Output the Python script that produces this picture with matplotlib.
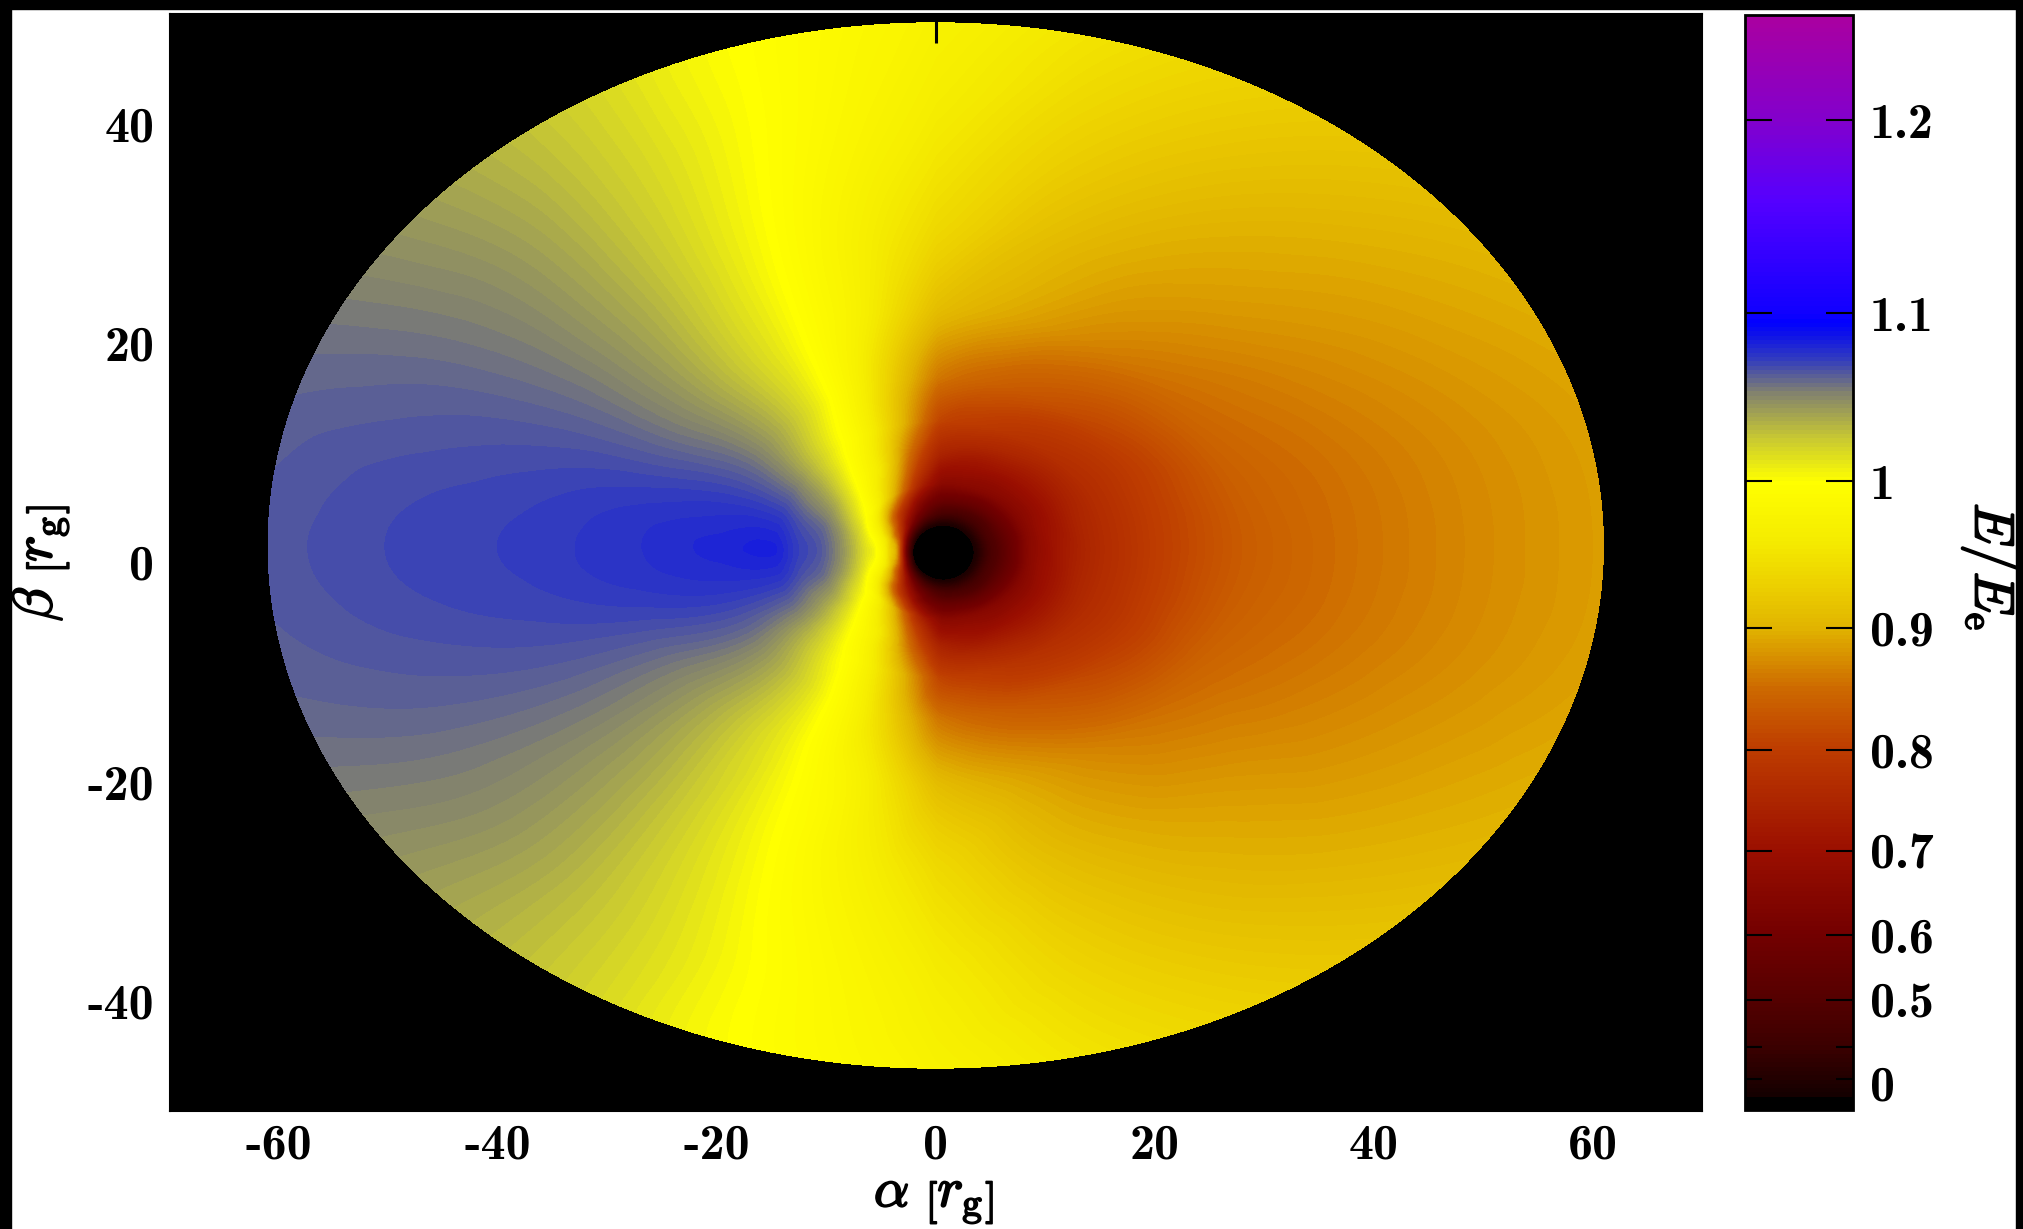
#!/usr/bin/python
# energy shift map of a thin disc seen at an angle, with a stretched colour bar
import numpy as np
import matplotlib
matplotlib.use('Agg')
import matplotlib.pyplot as plt
import matplotlib.tri as mtri
import matplotlib.patheffects as pe
from matplotlib.cm import ScalarMappable
from matplotlib.colors import LinearSegmentedColormap, FuncNorm
from matplotlib.patches import Rectangle

# rings of the disc as seen in the picture (semi axes and centre, in r_g)
ring_a = [2.8, 4.0, 5.0, 6.0, 7.0, 8.0, 9.5, 11.0, 13.0, 15.0, 20.0, 28.0, 38.0, 50.0, 61.0]
ring_b = [2.5, 3.4, 4.1, 4.8, 5.5, 6.2, 7.4, 8.6, 10.1, 11.7, 15.6, 21.8, 29.6, 39.0, 47.65]
ring_cx = [0.7, 0.7, 0.65, 0.6, 0.55, 0.5, 0.45, 0.4, 0.35, 0.3, 0.2, 0.1, 0.0, 0.0, 0.0]
ring_cy = [0.9, 0.9, 0.9, 0.9, 0.95, 1.0, 1.05, 1.1, 1.15, 1.2, 1.3, 1.4, 1.5, 1.5, 1.55]

# angles of the columns, from +alpha over the top to -alpha (lower half is the mirror)
ang_deg = [0, 15, 30, 45, 60, 75, 90, 97.5, 105, 112.5, 120, 127.5, 135, 142.5, 150, 157.5, 165, 172.5, 180]

# E/Ee, one row per ring
g_top = [
    [.25, .25, .25, .25, .25, .25, .25, .25, .25, .25, .25, .25, .26, .26, .27, .28, .30, .30, .30],
    [.42, .42, .42, .41, .41, .41, .42, .43, .45, .47, .50, .54, .58, .63, .68, .73, .78, .81, .82],
    [.49, .49, .49, .48, .48, .49, .50, .52, .55, .59, .63, .68, .73, .79, .84, .88, .92, .935, .94],
    [.55, .55, .55, .55, .55, .56, .57, .59, .62, .66, .72, .77, .82, .87, .92, .955, .98, .993, .998],
    [.605, .60, .60, .60, .60, .61, .615, .64, .685, .74, .805, .86, .90, .94, .97, .99, 1.005, 1.012, 1.015],
    [.655, .65, .645, .645, .65, .655, .66, .70, .75, .82, .88, .925, .96, .985, 1.0, 1.014, 1.024, 1.03, 1.032],
    [.69, .69, .68, .68, .68, .69, .70, .75, .81, .875, .925, .96, .985, 1.005, 1.02, 1.033, 1.044, 1.05, 1.052],
    [.72, .715, .71, .71, .715, .72, .74, .79, .85, .91, .955, .98, 1.0, 1.018, 1.035, 1.048, 1.058, 1.063, 1.065],
    [.745, .745, .74, .74, .75, .76, .775, .83, .885, .935, .97, .993, 1.012, 1.03, 1.045, 1.056, 1.065, 1.07, 1.072],
    [.765, .765, .765, .77, .78, .795, .81, .865, .915, .955, .985, 1.003, 1.02, 1.036, 1.052, 1.064, 1.073, 1.079, 1.082],
    [.80, .80, .80, .81, .825, .84, .86, .90, .94, .975, 1.0, 1.018, 1.033, 1.046, 1.058, 1.067, 1.074, 1.078, 1.08],
    [.835, .838, .845, .855, .87, .89, .91, .94, .97, .99, 1.007, 1.02, 1.033, 1.045, 1.055, 1.064, 1.071, 1.075, 1.076],
    [.855, .857, .866, .88, .893, .912, .94, .96, .98, .998, 1.012, 1.025, 1.037, 1.047, 1.056, 1.063, 1.068, 1.071, 1.072],
    [.872, .874, .884, .897, .912, .932, .96, .977, .992, 1.005, 1.017, 1.028, 1.039, 1.048, 1.055, 1.061, 1.065, 1.068, 1.069],
    [.885, .887, .898, .912, .928, .948, .972, .985, .996, 1.006, 1.018, 1.028, 1.037, 1.045, 1.052, 1.058, 1.062, 1.064, 1.065],
]

# colour bar
scale_values = [0, .2, .3, .4, .5, .6, .7, .8, .9, 1.0, 1.1, 1.2, 1.25]
scale_pos = [0, .0105, .0279, .0572, .1004, .1590, .2359, .3283, .4398, .5738, .7275, .9040, 1.0]
bar_values = [0, .2, .201, .3, .4, .5, .6, .7, .8, .85, .9, .926, .96, 1.0, 1.026, 1.053, 1.073, 1.085, 1.095, 1.1, 1.159, 1.2, 1.25]
bar_colors = ['#000000', '#000000', '#140000', '#230000', '#3c0000', '#550000', '#730000', '#9b0f00',
              '#be3c00', '#cd6900', '#e1b400', '#ebcd00', '#f5ec00', '#ffff00', '#c8c832', '#82826e',
              '#323cbe', '#1419e1', '#0000ff', '#0f00ff', '#5500ff', '#8200cd', '#aa00a0']
bar_ticks = [.5, .6, .7, .8, .9, 1.0, 1.1, 1.2]
bar_labels = ['0.5', '0.6', '0.7', '0.8', '0.9', '1', '1.1', '1.2']
bar_minor = [.3, .4]

x_ticks = [-60, -40, -20, 0, 20, 40, 60]
y_ticks = [-40, -20, 0, 20, 40]

W, H = 2023.0, 1229.0
LABEL_FONT = 'cmb10'
LABEL_SIZE = 36
TITLE_SIZE = 40

plt.rcParams['mathtext.fontset'] = 'cm'

fig = plt.figure(figsize=(W / 100, H / 100), dpi=100, facecolor='white')

# black edges of the page
fig.add_artist(Rectangle((0, 1 - 9 / H), 1, 9 / H, transform=fig.transFigure, color='black'))
fig.add_artist(Rectangle((0, 0), 11 / W, 1, transform=fig.transFigure, color='black'))
fig.add_artist(Rectangle((2016 / W, 0), 7 / W, 1, transform=fig.transFigure, color='black'))

ax = fig.add_axes([169.5 / W, 1 - 1111 / H, (1702 - 169.5) / W, (1111 - 14) / H], facecolor='black')


# colour scale, stretched as in the picture
def to_pos(v):
    return np.interp(np.ravel(v), scale_values, scale_pos).reshape(np.shape(v))


def from_pos(p):
    return np.interp(np.ravel(p), scale_pos, scale_values).reshape(np.shape(p))


norm = FuncNorm((to_pos, from_pos), vmin=0, vmax=1.25)
stops = [float(to_pos(v)) for v in bar_values]
cmap = LinearSegmentedColormap.from_list('shift', list(zip(stops, bar_colors)), N=256)
levels = from_pos(np.linspace(0, 1, 257))

# grid in ring / angle index, lower half mirrored, wrapped a few columns so the seam stays smooth
top = np.array(g_top)
grid = np.hstack([top, top[:, -2:0:-1]])
angles = np.array(ang_deg + [360 - a for a in ang_deg[-2:0:-1]], dtype=float)
n_ring, n_ang = grid.shape
pad = 3
z = np.hstack([grid[:, -pad:], grid, grid[:, :pad]]).ravel()
ang_wrap = np.concatenate([angles[-pad:] - 360, angles, angles[:pad] + 360])
uu, vv = np.meshgrid(np.arange(n_ring), np.arange(-pad, n_ang + pad), indexing='ij')
n_col = n_ang + 2 * pad
tris = []
for i in range(n_ring - 1):
    for j in range(n_col - 1):
        p = i * n_col + j
        tris.append([p, p + n_col, p + 1])
        tris.append([p + 1, p + n_col, p + n_col + 1])
base = mtri.Triangulation(uu.ravel().astype(float), vv.ravel().astype(float), triangles=np.array(tris))
interp = mtri.CubicTriInterpolator(base, z, kind='geom')
fine, z_fine = mtri.UniformTriRefiner(base).refine_field(z, triinterpolator=interp, subdiv=4)

# back to picture coordinates
idx = np.arange(n_ring)
phi = np.radians(np.interp(fine.y, np.arange(-pad, n_ang + pad), ang_wrap))
alpha = np.interp(fine.x, idx, ring_cx) + np.interp(fine.x, idx, ring_a) * np.cos(phi)
beta = np.interp(fine.x, idx, ring_cy) + np.interp(fine.x, idx, ring_b) * np.sin(phi)
v_mid = fine.y[fine.triangles].mean(axis=1)
mapped = mtri.Triangulation(alpha, beta, triangles=fine.triangles, mask=(v_mid < 0) | (v_mid >= n_ang))

ax.tricontourf(mapped, z_fine, levels=levels, cmap=cmap, norm=norm, extend='both', antialiased=False)

ax.set_xlim(-70, 70)
ax.set_ylim(-50, 50)
ax.set_xticks(x_ticks)
ax.set_yticks(y_ticks)
ax.set_xticklabels([str(t) for t in x_ticks], family=LABEL_FONT, size=LABEL_SIZE)
ax.set_yticklabels([str(t) for t in y_ticks], family=LABEL_FONT, size=LABEL_SIZE)
ax.tick_params(direction='in', length=21, width=2.2, top=True, right=True, pad=11, color='black')
ax.tick_params(axis='x', pad=9)
for s in ax.spines.values():
    s.set_linewidth(1.5)

thick = [pe.withStroke(linewidth=1.3, foreground='black')]
fig.text(934 / W, 1 - 1199 / H, r'$\alpha\ \left[r_{\mathrm{g}}\right]$', size=TITLE_SIZE, ha='center', va='center', path_effects=thick)
fig.text(40 / W, 1 - 563 / H, r'$\beta\ \left[r_{\mathrm{g}}\right]$', size=TITLE_SIZE, ha='center', va='center', rotation=90, path_effects=thick)
fig.text(1990 / W, 1 - 567 / H, r'$E/E_{\mathrm{e}}$', size=TITLE_SIZE, ha='center', va='center', rotation=270, path_effects=thick)

# colour bar
cax = fig.add_axes([1745 / W, 1 - 1109.5 / H, (1853 - 1745) / W, (1109.5 - 15) / H])
cb = fig.colorbar(ScalarMappable(norm=norm, cmap=cmap), cax=cax)
cb.outline.set_linewidth(2.0)
cb.set_ticks(bar_ticks)
cb.set_ticklabels(bar_labels)
cax.set_yticks(bar_minor, minor=True)
cax.tick_params(which='major', direction='in', length=19.5, width=1.5, left=True, right=True, pad=12)
cax.tick_params(which='minor', direction='in', length=12.5, width=1.5, left=True, right=True)
for lab in cax.get_yticklabels():
    lab.set_family(LABEL_FONT)
    lab.set_size(LABEL_SIZE)
cax.annotate('0', xy=(1, .253), xycoords=cax.get_yaxis_transform(), xytext=(12, 0), textcoords='offset points',
             family=LABEL_FONT, size=LABEL_SIZE, va='center', ha='left')

fig.savefig('out.png', dpi=100)
